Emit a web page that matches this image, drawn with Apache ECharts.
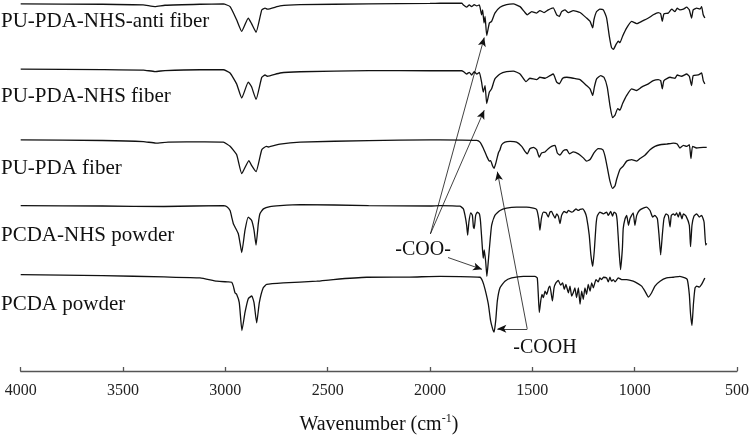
<!DOCTYPE html>
<html><head><meta charset="utf-8">
<script src="https://cdn.jsdelivr.net/npm/echarts@6/dist/echarts.min.js"></script>
<style>html,body{margin:0;padding:0;background:#fff}#c{width:752px;height:440px}</style>
</head><body><div id="c"></div><script>
// ---- data (wavenumber cm-1, relative transmittance) ----
const seriesNames = ['PU-PDA-NHS-anti fiber','PU-PDA-NHS fiber','PU-PDA fiber','PCDA-NHS powder','PCDA powder'];
const xTicks = [4000,3500,3000,2500,2000,1500,1000,500];

const specAntiFiber = [[4000,100],[3600,99.7],[3402,99],[3344,97.3],[3295,98.7],[3124,99.7],[3010,100],[2977,97.3],[2945,84],[2920,72.3],[2888,85.7],[2872,80],[2850,71.3],[2822,94],[2806,95.7],[2795,94.7],[2733,98],[2635,99.3],[2300,100],[2000,100.5],[1951,100.7],[1845,100.7],[1837,99],[1821,96.7],[1808,99],[1797,97.3],[1784,99.3],[1772,98],[1759,99],[1748,89],[1743,94],[1736,80.7],[1731,87.3],[1723,68],[1710,80.7],[1699,82.3],[1683,90.7],[1658,96.7],[1626,99.3],[1593,100],[1560,97.3],[1536,91.3],[1525,89],[1503,92.3],[1479,90.7],[1463,93.3],[1443,91.3],[1422,94],[1398,96],[1381,89],[1368,87.3],[1357,92.3],[1341,94],[1324,91.3],[1300,93.3],[1267,91.3],[1235,85.7],[1218,82.3],[1205,75.7],[1199,84],[1186,92.3],[1170,94.7],[1153,94],[1137,85.7],[1124,67.3],[1113,55.7],[1104,54],[1091,59],[1080,62.3],[1072,60.7],[1059,67.3],[1039,75.7],[1015,82.3],[990,80],[966,82.3],[933,85.7],[909,89],[885,91.3],[873,90],[865,82.3],[857,90],[836,90.7],[819,94.7],[803,92.3],[792,95.7],[779,94],[762,94.7],[746,96.7],[733,94],[722,85.7],[714,94],[697,95.7],[681,94.7],[673,97.3],[665,89],[657,85.7]];

const specNhsFiber = [[4000,100],[3600,99.5],[3400,99],[3344,97.5],[3295,98.5],[3124,99.3],[3010,99.3],[2977,96],[2945,85],[2920,70.7],[2888,86.7],[2872,82],[2850,69.3],[2822,91.7],[2806,94],[2795,92.7],[2733,96],[2635,97.3],[2300,98.5],[2000,98.3],[1951,98.3],[1845,98.3],[1837,97.5],[1821,95],[1808,96.7],[1797,94],[1784,97.3],[1772,95],[1759,96.7],[1748,86.7],[1740,76.7],[1731,83.3],[1723,65],[1710,76.7],[1699,80],[1683,90],[1658,95],[1626,97.3],[1593,98],[1560,95],[1531,87.3],[1512,90.7],[1479,89.3],[1463,91.7],[1438,90.7],[1414,93.3],[1398,95],[1381,86.7],[1368,85],[1352,90.7],[1332,91.7],[1300,90.7],[1267,89.3],[1235,83.3],[1218,80],[1205,73.3],[1197,81.7],[1186,90],[1166,93.3],[1150,91.7],[1134,81.7],[1121,63.3],[1108,50.7],[1096,53.3],[1083,60],[1072,58.3],[1059,65],[1039,73.3],[1015,80],[990,78.3],[966,81.7],[933,85],[909,88.3],[885,89.3],[873,88.3],[865,80],[857,88.3],[827,91.7],[803,90.7],[792,94],[771,92.7],[746,95],[733,92.7],[722,83.3],[714,93.3],[689,94],[673,96],[665,88.3],[657,85]];

const specPdaFiber = [[4000,100],[3600,99.3],[3400,98.2],[3340,96.7],[3280,97.7],[3100,98],[3010,97.7],[2977,93.4],[2945,85],[2920,65.7],[2885,79],[2872,74],[2850,67.7],[2822,90],[2800,93.4],[2790,92.7],[2733,95.7],[2635,97.7],[2300,99.2],[2000,100],[1951,100],[1772,99.4],[1756,97.7],[1740,91.7],[1723,83.4],[1710,78.4],[1704,79],[1694,73.4],[1687,71],[1678,76.7],[1666,86.7],[1658,90],[1650,95],[1634,97.7],[1609,98.4],[1577,97.7],[1552,93.4],[1536,88.4],[1525,85.7],[1512,91],[1495,92.4],[1479,90],[1466,82.4],[1455,86.7],[1438,87.7],[1422,91],[1406,93.4],[1389,94.4],[1378,86.7],[1365,84.4],[1349,89],[1332,90],[1319,85.7],[1300,87.7],[1275,85.7],[1251,81.7],[1235,78.4],[1218,80],[1199,86.7],[1178,91],[1156,90],[1145,83.4],[1132,70],[1121,58.4],[1108,50.7],[1096,53.4],[1088,60],[1072,70],[1056,73.4],[1039,78.4],[1015,80],[990,78.4],[974,81],[950,84.4],[925,90],[901,93.4],[876,95],[844,95.7],[811,96.7],[792,95.7],[779,91.7],[762,94.4],[746,93.4],[733,95],[725,81],[717,93.4],[697,91.7],[665,92.4],[648,92.4]];

const specNhsPowder = [[4000,100],[3600,99.5],[3300,99],[3010,100],[2994,99],[2977,95],[2969,88.3],[2961,81.6],[2953,78.3],[2937,71.6],[2928,61.6],[2920,52.3],[2904,75],[2888,88.3],[2872,85],[2860,75],[2850,60],[2839,81.6],[2831,91.6],[2814,96.6],[2782,99],[2733,100],[2635,101],[2300,100],[2000,99.5],[1951,100],[1854,99.3],[1837,96.6],[1829,90],[1821,80],[1816,70],[1810,83.3],[1801,92.6],[1793,90],[1788,78.3],[1784,76.6],[1777,90],[1769,93.3],[1759,91.6],[1753,83.3],[1744,56.6],[1740,46.6],[1735,55],[1728,43.3],[1722,28.3],[1714,46.6],[1707,63.3],[1699,80],[1683,90],[1658,95],[1626,97.3],[1577,98.3],[1528,98.3],[1495,97.3],[1479,96],[1469,86.6],[1463,75],[1456,86.6],[1446,93.3],[1433,92.6],[1422,88.3],[1414,93.3],[1406,94],[1398,90.6],[1389,87.3],[1381,91.6],[1373,89.3],[1365,81.6],[1357,90],[1345,94],[1332,92.6],[1324,95],[1308,93.3],[1300,94],[1287,96.6],[1275,95],[1267,96],[1254,96.6],[1243,93.3],[1235,88.3],[1222,70],[1214,50],[1205,38.3],[1197,55],[1189,80],[1183,89.3],[1170,93.3],[1153,91.6],[1137,93.3],[1129,90],[1117,94],[1108,89.3],[1101,93.3],[1091,91.6],[1085,83.3],[1077,56.6],[1069,35],[1060,56.6],[1056,76.6],[1047,86.6],[1039,90],[1030,80],[1023,86.6],[1015,90],[1007,92.6],[999,80],[990,90],[977,95],[958,97.3],[941,98.3],[925,95],[912,88.3],[901,90],[889,86.6],[881,70],[873,50],[865,70],[857,86.6],[847,91.6],[836,90],[827,78.3],[821,90],[811,91.6],[803,90],[795,92.6],[787,88.3],[779,93.3],[769,86.6],[762,91.6],[749,89.3],[733,80],[727,58.3],[720,80],[710,89.3],[697,91.6],[684,88.3],[673,90],[661,83.3],[653,60],[648,61.6]];

const specPcdaPowder = [[4000,100],[3600,99],[3300,97.6],[3124,96.6],[3042,93.3],[2990,92.6],[2969,92.3],[2961,88.3],[2953,81.6],[2945,80],[2932,71.6],[2919,43.3],[2904,61.6],[2888,75.6],[2871,78.3],[2860,71.6],[2847,51],[2834,71.6],[2815,86.6],[2798,90],[2717,91.6],[2554,93.3],[2473,95],[2309,97.3],[2100,97.5],[1951,98.3],[1756,97.3],[1743,93.3],[1731,85],[1715,70],[1704,53.3],[1694,45],[1687,41.6],[1679,53.3],[1671,73.3],[1658,86.6],[1634,93.3],[1601,96.6],[1544,98.3],[1487,98.3],[1476,96.6],[1471,80],[1466,61.6],[1459,73.3],[1453,80],[1446,76.6],[1438,83.3],[1430,80],[1420,86.6],[1414,88.3],[1402,73.3],[1394,86.6],[1385,91.6],[1373,94],[1362,89.3],[1352,91.6],[1344,85],[1336,90],[1324,81.6],[1316,88.3],[1308,78.3],[1300,81.6],[1292,86.6],[1284,76.6],[1275,86.6],[1267,70],[1259,83.3],[1251,75],[1243,86.6],[1235,80],[1227,90],[1218,83.3],[1210,91.6],[1202,86.6],[1189,95],[1178,92.6],[1170,96.6],[1161,95],[1153,97.3],[1137,96.6],[1129,92.6],[1121,97.3],[1113,93.3],[1104,95],[1096,92.6],[1080,96.6],[1064,95],[1039,95],[1007,93.3],[982,90.6],[966,88.3],[950,83.3],[933,77.3],[917,81.6],[901,88.3],[876,93.3],[844,96.6],[811,97.3],[779,98.3],[754,96.6],[743,95],[733,80],[727,60],[720,48.3],[713,70],[705,86.6],[697,88.3],[684,87.3],[673,90],[665,93.3],[657,96.6]];

// ---- layout (vertical stacking offsets of each trace, in plot units) ----
const spectra = [specAntiFiber, specNhsFiber, specPdaFiber, specNhsPowder, specPcdaPowder];
const offsets = [272, 206, 134.3, 67.7, -2.3];
const labelY = [21.7, 96.3, 168.8, 235.5, 304.5];

const FONT = "'Liberation Serif','Times New Roman',serif";
const chart = echarts.init(document.getElementById('c'), null, {renderer:'canvas'});

const series = spectra.map((s, i) => ({
  type: 'line',
  name: seriesNames[i],
  data: s.map(p => [p[0], p[1] + offsets[i]]),
  showSymbol: false,
  smooth: 0.15,
  clip: false,
  silent: true,
  lineStyle: {color: '#111', width: 1.3}
}));

// annotation arrows in plot coordinates [wavenumber, plotted value]
const arrowStyle = {color: '#111', width: 0.8, type: 'solid'};
series[4].markLine = {
  silent: true,
  symbol: ['none', 'arrow'],
  symbolSize: [6, 9],
  label: {show: false},
  lineStyle: arrowStyle,
  data: [
    [{coord: [1998, 139]}, {coord: [1735, 338]}],
    [{coord: [1998, 139]}, {coord: [1735, 264.3]}],
    [{coord: [1912, 115]}, {coord: [1746, 103]}],
    [{coord: [1525, 42.7]}, {coord: [1671, 202]}],
    [{coord: [1525, 42.7]}, {coord: [1671, 42.7]}]
  ]
};
series[4].markPoint = {
  silent: true,
  symbol: 'circle',
  symbolSize: 0,
  label: {show: true, position: 'inside', formatter: '{b}', color: '#111', fontFamily: FONT, fontSize: 20},
  data: [
    {name: '-COO-', coord: [2034, 123]},
    {name: '-COOH', coord: [1438, 23.3]}
  ]
};

chart.setOption({
  animation: false,
  backgroundColor: '#fff',
  grid: {left: 20.7, right: 15, top: 0, bottom: 64, containLabel: false},
  xAxis: {
    type: 'value', min: 500, max: 4000, interval: 500, inverse: true,
    axisLine: {show: true, lineStyle: {color: '#555', width: 1.3}},
    axisTick: {show: true, inside: true, length: 4, lineStyle: {color: '#555', width: 1.3}},
    axisLabel: {color: '#222', fontFamily: FONT, fontSize: 16, margin: 12, formatter: v => String(v)},
    splitLine: {show: false},
    name: '{a|Wavenumber (cm}{s|-1}{a|)}',
    nameLocation: 'middle', nameGap: 42,
    nameTextStyle: {
      rich: {
        a: {fontFamily: FONT, fontSize: 20, color: '#111', lineHeight: 22, verticalAlign: 'bottom'},
        s: {fontFamily: FONT, fontSize: 12, color: '#111', lineHeight: 22, verticalAlign: 'top'}
      }
    }
  },
  yAxis: {type: 'value', min: 0, max: 376, show: false},
  graphic: seriesNames.map((n, i) => ({
    type: 'text', x: 1, y: labelY[i], silent: true,
    style: {text: n, fontFamily: FONT, fontSize: 21, fill: '#111', align: 'left', verticalAlign: 'middle'}
  })),
  series: series
});
</script></body></html>
